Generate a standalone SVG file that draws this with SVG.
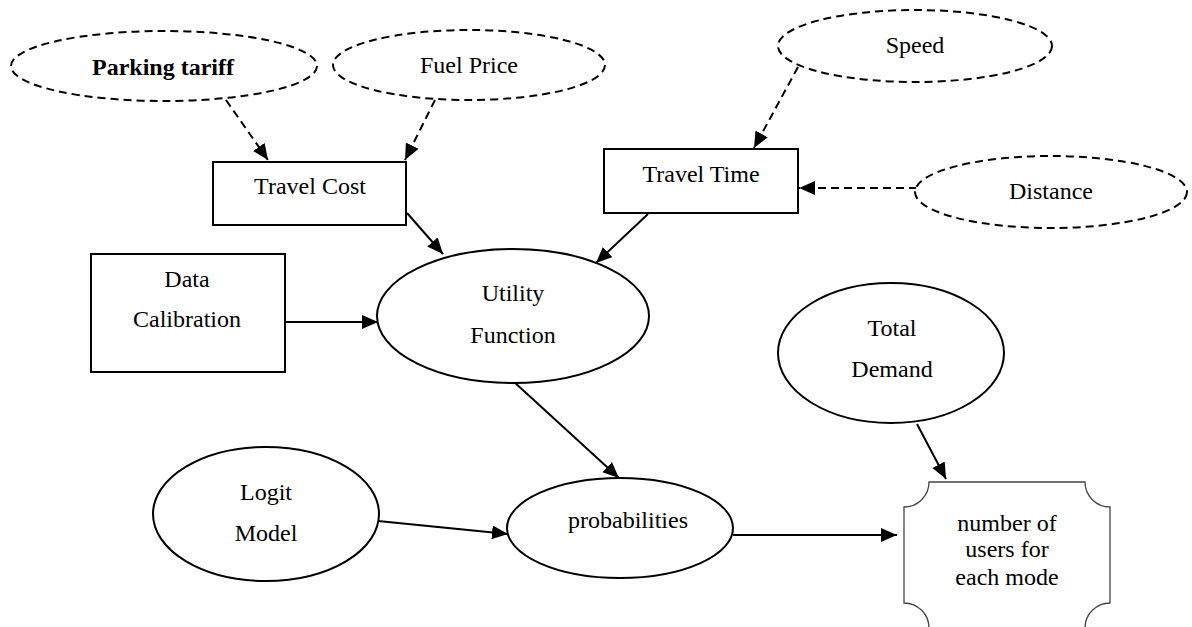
<svg xmlns="http://www.w3.org/2000/svg" width="1192" height="627" viewBox="0 0 1192 627">
<style>
  text { font-family: "Liberation Serif", "Times New Roman", serif; font-size: 24px; fill: #000; text-anchor: middle; }
  .bold { font-weight: bold; }
  .dashed { fill: #fff; stroke: #000; stroke-width: 2; stroke-dasharray: 8 5; }
  .solid { fill: #fff; stroke: #000; stroke-width: 2; }
  .plaque { fill: #fff; stroke: #444; stroke-width: 1.3; }
  .edge { stroke: #000; stroke-width: 2; fill: none; marker-end: url(#arrow); }
  .edge.dash { stroke-dasharray: 8 5; }
</style>
<defs>
  <marker id="arrow" markerUnits="userSpaceOnUse" markerWidth="17" markerHeight="15" refX="16" refY="7" orient="auto">
    <path d="M0,0 L16,7 L0,14 Z" fill="#000"/>
  </marker>
</defs>
<rect width="1192" height="627" fill="#fff"/>

<g id="connectors">
  <line class="edge dash" x1="226" y1="100" x2="268" y2="160"/>
  <line class="edge dash" x1="435" y1="100" x2="405" y2="160"/>
  <line class="edge dash" x1="798" y1="67" x2="754" y2="148"/>
  <line class="edge dash" x1="917" y1="188" x2="799" y2="188"/>
  <line class="edge" x1="407" y1="213" x2="443" y2="254"/>
  <line class="edge" x1="648" y1="214" x2="596" y2="263"/>
  <line class="edge" x1="285" y1="322" x2="378" y2="322"/>
  <line class="edge" x1="513" y1="381" x2="619" y2="478"/>
  <line class="edge" x1="378" y1="521" x2="508" y2="534"/>
  <line class="edge" x1="733" y1="535" x2="897" y2="535"/>
  <line class="edge" x1="917" y1="424" x2="946" y2="479"/>
</g>

<g id="parking-tariff">
  <ellipse class="dashed" cx="164" cy="66" rx="153" ry="35"/>
  <text class="bold" x="163" y="75">Parking tariff</text>
</g>
<g id="fuel-price">
  <ellipse class="dashed" cx="469" cy="65" rx="136" ry="35"/>
  <text x="469" y="73">Fuel Price</text>
</g>
<g id="speed">
  <ellipse class="dashed" cx="915" cy="46" rx="137" ry="36"/>
  <text x="915" y="53">Speed</text>
</g>
<g id="distance">
  <ellipse class="dashed" cx="1051" cy="192" rx="136" ry="36"/>
  <text x="1051" y="199">Distance</text>
</g>
<g id="travel-cost">
  <rect class="solid" x="213" y="162" width="193" height="63"/>
  <text x="310" y="194">Travel Cost</text>
</g>
<g id="travel-time">
  <rect class="solid" x="604" y="149" width="194" height="64"/>
  <text x="701" y="182">Travel Time</text>
</g>
<g id="data-calibration">
  <rect class="solid" x="91" y="254" width="194" height="118"/>
  <text x="187" y="287">Data</text>
  <text x="187" y="327">Calibration</text>
</g>
<g id="utility-function">
  <ellipse class="solid" cx="513" cy="316" rx="136" ry="67"/>
  <text x="513" y="301">Utility</text>
  <text x="513" y="343">Function</text>
</g>
<g id="total-demand">
  <ellipse class="solid" cx="891" cy="353" rx="113" ry="70"/>
  <text x="892" y="336">Total</text>
  <text x="892" y="377">Demand</text>
</g>
<g id="logit-model">
  <ellipse class="solid" cx="266" cy="514" rx="113" ry="67"/>
  <text x="266" y="500">Logit</text>
  <text x="266" y="541">Model</text>
</g>
<g id="probabilities">
  <ellipse class="solid" cx="620" cy="528" rx="113" ry="50"/>
  <text x="628" y="528">probabilities</text>
</g>
<g id="number-of-users">
  <path class="plaque" d="M929,482 L1085,482 A25,25 0 0 0 1110,507 L1110,603 A25,25 0 0 0 1085,628 L929,628 A25,25 0 0 0 904,603 L904,507 A25,25 0 0 0 929,482 Z"/>
  <text x="1007" y="531">number of</text>
  <text x="1007" y="557">users for</text>
  <text x="1007" y="585">each mode</text>
</g>
</svg>
